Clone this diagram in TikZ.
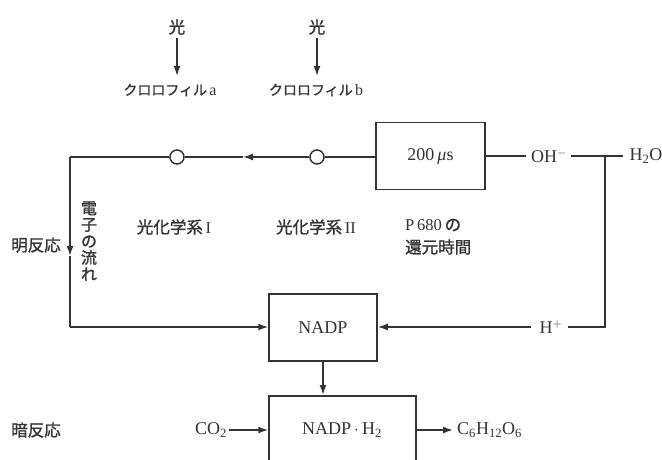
\documentclass[tikz,border=0pt]{standalone}
\usepackage{fontspec}
\setmainfont{Liberation Serif}
\newfontfamily\jp[FakeBold=1.2]{Noto Sans CJK JP}
\usetikzlibrary{arrows.meta}
\begin{document}
\begin{tikzpicture}[x=1pt,y=-1pt,
  ln/.style={draw=black!80,line width=1.5pt},
  arr/.style={ln,-{Latex[length=10pt,width=7pt]}},
  boxn/.style={draw=black!80,line width=1.5pt,fill=white,inner sep=0pt},
  jtxt/.style={font=\jp\fontsize{16.5}{18}\selectfont,inner sep=0pt,text=black!80},
  ktxt/.style={font=\jp\fontsize{14}{16}\selectfont,inner sep=0pt,text=black!80},
  ltxt/.style={font=\fontsize{18}{20}\selectfont,inner sep=0pt,text=black!80},
  circ/.style={circle,draw=black!80,line width=1.5pt,fill=white,minimum size=14pt,inner sep=0pt}]
\useasboundingbox (0,0) rectangle (662,459);
\clip (0,0) rectangle (662,459);
% top light inputs
\node[jtxt] (l1) at (177,27) {光};
\node[jtxt] (l2) at (317,27) {光};
\node[ktxt] (ca) at (170,90) {クロロフィル\,{\fontsize{16}{18}\selectfont\rmfamily a}};
\node[ktxt] (cb) at (316,90) {クロロフィル\,{\fontsize{16}{18}\selectfont\rmfamily b}};
\coordinate (a1s) at (177,38); \coordinate (a1e) at (177,76);
\coordinate (a2s) at (317,38); \coordinate (a2e) at (317,76);
\draw[arr] (a1s) -- (a1e);
\draw[arr] (a2s) -- (a2e);
% boxes
\node[boxn,minimum width=109pt,minimum height=67pt,ltxt] (b200) at (430.5,156) {200\,\textit{μ}s};
\node[boxn,minimum width=108pt,minimum height=67pt,ltxt] (nadp) at (323,327.5) {NADP};
\node[boxn,minimum width=147pt,minimum height=90pt,anchor=north,ltxt] (nadph) at (342.5,395) {};
\node[ltxt] (nadphl) at (342,430) {NADP\,$\cdot$\,H\textsubscript{2}};
% circles
\node[circ] (c1) at (177,157) {};
\node[circ] (c2) at (317,157) {};
\coordinate (tl) at (70,157);
\coordinate (bl) at (70,327);
\coordinate (mh) at (243,157);
\coordinate (mv) at (70,256);
\draw[ln] (b200.west |- c2) -- (c2);
\draw[arr] (c2) -- (mh);
\draw[ln] (mh) -- (c1);
\draw[ln] (c1) -- (tl);
\draw[arr] (tl) -- (mv);
\draw[ln] (mv) -- (bl);
\draw[arr] (bl) -- (nadp.west |- bl);
% right side
\node[ltxt] (oh) at (549,156) {OH$^-$};
\node[ltxt] (h2o) at (646,156) {H\textsubscript{2}O};
\coordinate (j) at (605,156);
\coordinate (jb) at (605,327);
\node[ltxt] (hp) at (551,327) {H$^+$};
\draw[ln] (b200.east) -- ([xshift=-5pt]oh.west);
\draw[ln] ([xshift=4pt]oh.east) -- ([xshift=-6pt]h2o.west);
\draw[ln] (j) -- (jb) -- ([xshift=5pt]hp.east);
\draw[arr] ([xshift=-8pt]hp.west) -- (nadp.east |- hp);
% bottom
\draw[arr] (nadp.south) -- (nadph.north -| nadp.south);
\node[ltxt] (co2) at (211,430) {CO\textsubscript{2}};
\node[ltxt,anchor=west] (glu) at (457,430) {C\textsubscript{6}H\textsubscript{12}O\textsubscript{6}};
\draw[arr] ([xshift=2pt]co2.east) -- (nadph.west |- co2);
\draw[arr] (nadph.east |- co2) -- ([xshift=-4pt]glu.west);
% labels
\node[jtxt] (mei) at (36,245) {明反応};
\node[jtxt] (an) at (36,430) {暗反応};
\node[jtxt,align=center,font=\jp\fontsize{16}{16.5}\selectfont] (den) at (89,241) {電\\子\\の\\流\\れ};
\node[jtxt] (ps1) at (174,227) {光化学系\,{\rmfamily I}};
\node[jtxt] (ps2) at (316,227) {光化学系\,{\rmfamily II}};
\node[jtxt,anchor=west] (p680) at (405,225) {{\rmfamily P\,680}\,の};
\node[jtxt,anchor=west] (kan) at (405,247) {還元時間};
\end{tikzpicture}
\end{document}
